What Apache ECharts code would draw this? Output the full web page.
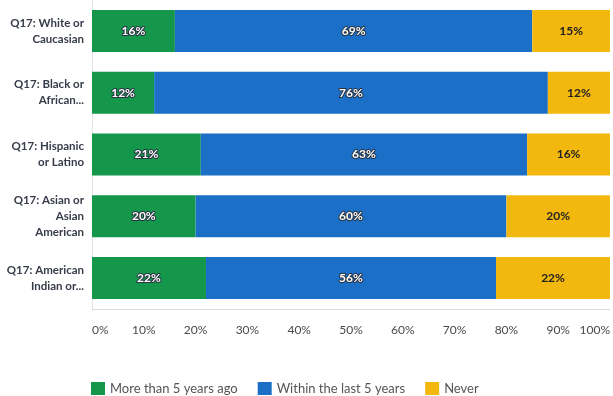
<!DOCTYPE html>
<html>
<head>
<meta charset="utf-8">
<script src="https://cdn.jsdelivr.net/npm/echarts@6/dist/echarts.min.js"></script>
<style>
html,body{margin:0;padding:0;background:#fff;}
#chart{width:613px;height:396px;}
</style>
</head>
<body>
<div id="chart"></div>
<script>
var categories = ["Q17: White or\nCaucasian", "Q17: Black or\nAfrican...", "Q17: Hispanic\nor Latino", "Q17: Asian or\nAsian\nAmerican", "Q17: American\nIndian or..."];
var seriesNames = ["More than 5 years ago", "Within the last 5 years", "Never"];
var moreThan5 = [16, 12, 21, 20, 22];
var within5 = [69, 76, 63, 60, 56];
var never = [15, 12, 16, 20, 22];
var colors = ["#14974a", "#1c6fc6", "#f3b80e"];

var chart = echarts.init(document.getElementById('chart'), null, {renderer: 'canvas'});
var FONT = 'Lato, "DejaVu Sans", sans-serif';

function mk(name, data, color, dark) {
  return {
    name: name,
    type: 'bar',
    stack: 'total',
    data: data,
    barWidth: 42,
    itemStyle: {color: color},
    label: {
      show: true,
      position: 'inside',
      formatter: '{c}%',
      fontFamily: FONT,
      fontSize: 12,
      fontWeight: 'bold',
      color: dark ? '#222' : '#fff',
      textBorderColor: dark ? 'transparent' : '#2a3340',
      textBorderWidth: dark ? 0 : 2
    }
  };
}

chart.setOption({
  animation: false,
  backgroundColor: '#fff',
  color: colors,
  grid: {left: 92, right: 1, top: 0, bottom: 87, containLabel: false},
  xAxis: {
    type: 'value',
    min: 0, max: 100, interval: 10,
    axisLine: {show: true, lineStyle: {color: '#dcdcdc'}},
    axisTick: {show: false},
    splitLine: {show: false},
    axisLabel: {
      formatter: '{value}%',
      margin: 15,
      fontFamily: FONT,
      fontSize: 12,
      color: '#4a4a4a',
      alignMinLabel: 'left',
      alignMaxLabel: 'right'
    }
  },
  yAxis: {
    type: 'category',
    inverse: true,
    data: categories,
    axisLine: {show: true, lineStyle: {color: '#e2e2e2'}},
    axisTick: {show: false},
    axisLabel: {
      margin: 8,
      fontFamily: FONT,
      fontSize: 11.5,
      fontWeight: 'bold',
      color: '#363c4a',
      lineHeight: 16,
      align: 'right'
    }
  },
  legend: {
    left: 91,
    top: 382,
    padding: 0,
    itemWidth: 14,
    itemHeight: 13,
    itemGap: 20,
    icon: 'rect',
    data: seriesNames,
    textStyle: {fontFamily: FONT, fontSize: 13, color: '#555'}
  },
  series: [
    mk(seriesNames[0], moreThan5, colors[0], false),
    mk(seriesNames[1], within5, colors[1], false),
    mk(seriesNames[2], never, colors[2], true)
  ]
});
</script>
</body>
</html>
